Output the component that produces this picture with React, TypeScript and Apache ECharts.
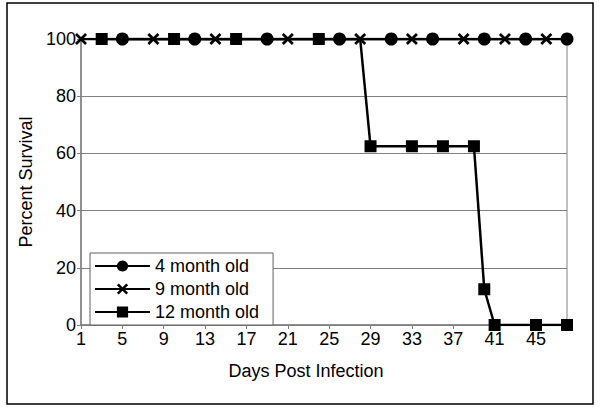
import React, { useEffect, useRef } from "react";
import * as echarts from "echarts";

const days = [
  1, 2, 3, 4, 5, 6, 7, 8, 9, 10, 11, 12, 13, 14, 15, 16, 17, 18, 19, 20, 21, 22, 23, 24,
  25, 26, 27, 28, 29, 30, 31, 32, 33, 34, 35, 36, 37, 38, 39, 40, 41, 42, 43, 44, 45, 46, 47, 48,
];

const fourMonthDays = [5, 12, 19, 26, 31, 35, 40, 44, 48];
const fourMonthSurvival = [100, 100, 100, 100, 100, 100, 100, 100, 100];

const nineMonthDays = [1, 8, 14, 21, 28, 33, 38, 42, 46];
const nineMonthSurvival = [100, 100, 100, 100, 100, 100, 100, 100, 100];

const twelveMonthDays = [3, 10, 16, 24, 28, 29, 33, 36, 39, 40, 41, 45, 48];
const twelveMonthSurvival = [100, 100, 100, 100, 100, 62.5, 62.5, 62.5, 62.5, 12.5, 0, 0, 0];
const twelveMonthHiddenMarkerDays = [28];

const yTicks = { min: 0, max: 100, interval: 20 };

const FONT = "'Liberation Sans', Arial, Helvetica, sans-serif";
const X_PATH =
  "path://M0,1.6L1.6,0L5,3.4L8.4,0L10,1.6L6.6,5L10,8.4L8.4,10L5,6.6L1.6,10L0,8.4L3.4,5Z";

export default function App() {
  const ref = useRef<HTMLDivElement>(null);

  useEffect(() => {
    if (!ref.current) return;
    const chart = echarts.init(ref.current, null, { renderer: "svg" });

    const pairs = (d: number[], v: number[], hidden: number[] = []) =>
      d.map((day, i) =>
        hidden.includes(day)
          ? { value: [String(day), v[i]], symbol: "none" }
          : { value: [String(day), v[i]] }
      );

    const common = {
      type: "line",
      showAllSymbol: true,
      lineStyle: { color: "#000", width: 2.5 },
      itemStyle: { color: "#000" },
      emphasis: { disabled: true },
    };

    chart.setOption({
      animation: false,
      backgroundColor: "#fff",
      textStyle: { fontFamily: FONT },
      graphic: [
        {
          type: "rect",
          shape: { x: 7, y: 3, width: 586, height: 401 },
          style: { fill: "none", stroke: "#000", lineWidth: 1.5 },
          z: -1,
        },
      ],
      grid: {
        left: 81,
        top: 39,
        width: 486,
        height: 286,
        show: true,
        borderColor: "#808080",
        borderWidth: 1,
        containLabel: false,
      },
      legend: {
        orient: "vertical",
        left: 90,
        top: 253,
        padding: [4, 14, 4, 4],
        itemWidth: 55,
        itemHeight: 14,
        itemGap: 5,
        borderColor: "#606060",
        borderWidth: 1,
        backgroundColor: "#fff",
        textStyle: { fontSize: 18, color: "#000", fontFamily: FONT, lineHeight: 18 },
        data: ["4 month old", "9 month old", "12 month old"],
      },
      xAxis: {
        type: "category",
        data: days.map(String),
        boundaryGap: false,
        name: "Days Post Infection",
        nameLocation: "middle",
        nameGap: 37,
        nameTextStyle: { fontSize: 18, color: "#000", fontFamily: FONT, padding: [0, 36, 0, 0] },
        axisLine: { lineStyle: { color: "#808080", width: 1.5 } },
        axisTick: { interval: 3, length: 4, lineStyle: { color: "#808080" } },
        axisLabel: { interval: 3, fontSize: 18, color: "#000", margin: 5, fontFamily: FONT },
        splitLine: { show: false },
      },
      yAxis: {
        type: "value",
        min: yTicks.min,
        max: yTicks.max,
        interval: yTicks.interval,
        name: "Percent Survival",
        nameLocation: "middle",
        nameGap: 38,
        nameTextStyle: { fontSize: 18, color: "#000", fontFamily: FONT },
        axisLine: { show: true, lineStyle: { color: "#808080", width: 1.5 } },
        axisTick: { show: true, length: 4, lineStyle: { color: "#808080" } },
        axisLabel: { fontSize: 18, color: "#000", margin: 5, fontFamily: FONT },
        splitLine: { show: true, lineStyle: { color: "#808080", width: 1 } },
      },
      series: [
        {
          ...common,
          name: "4 month old",
          symbol: "circle",
          symbolSize: 13,
          data: pairs(fourMonthDays, fourMonthSurvival),
        },
        {
          ...common,
          name: "9 month old",
          symbol: X_PATH,
          symbolSize: 12,
          data: pairs(nineMonthDays, nineMonthSurvival),
        },
        {
          ...common,
          name: "12 month old",
          symbol: "rect",
          symbolSize: 12,
          data: pairs(twelveMonthDays, twelveMonthSurvival, twelveMonthHiddenMarkerDays),
        },
      ],
    });

    return () => chart.dispose();
  }, []);

  return (
    <div
      ref={ref}
      style={{ position: "fixed", left: 0, top: 0, width: 600, height: 409 }}
    />
  );
}
